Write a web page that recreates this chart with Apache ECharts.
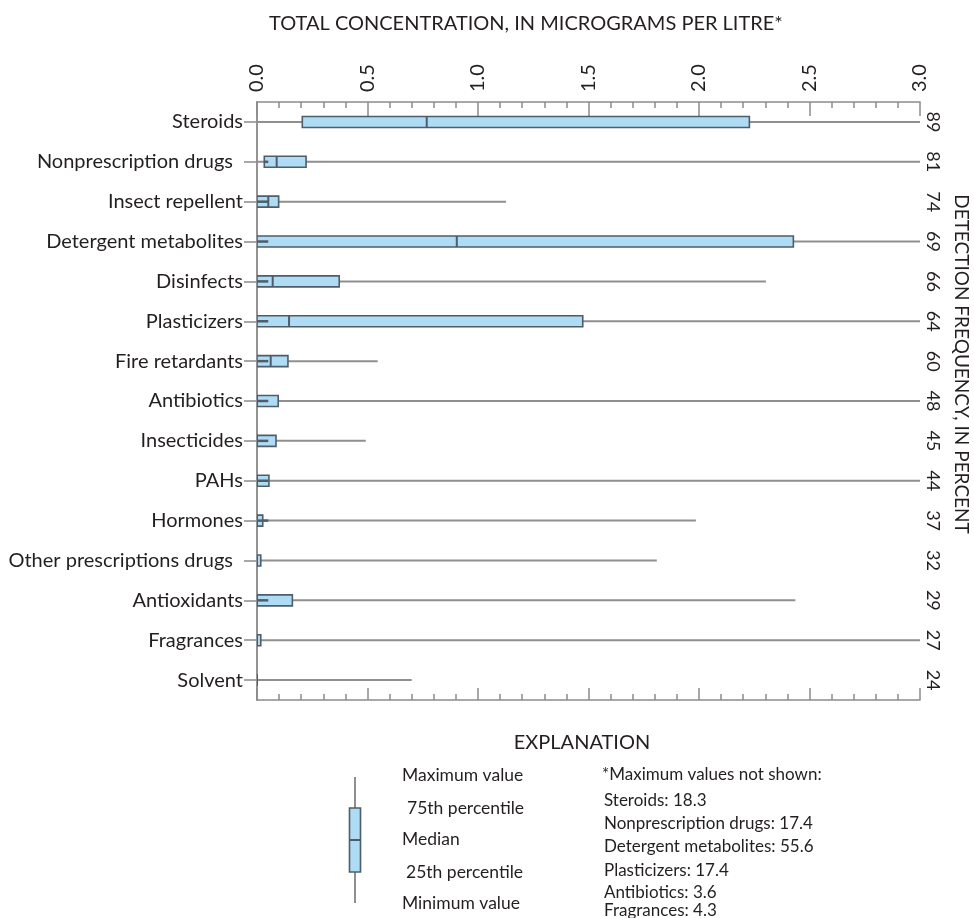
<!DOCTYPE html>
<html>
<head>
<meta charset="utf-8">
<script src="https://cdn.jsdelivr.net/npm/echarts@6/dist/echarts.min.js"></script>
<style>
  html, body { margin: 0; padding: 0; background: #ffffff; }
  #chart { width: 974px; height: 918px; }
</style>
</head>
<body>
<div id="chart"></div>
<script>
// Compound groups, top to bottom
const categories = [
  'Steroids', 'Nonprescription drugs', 'Insect repellent', 'Detergent metabolites',
  'Disinfects', 'Plasticizers', 'Fire retardants', 'Antibiotics', 'Insecticides',
  'PAHs', 'Hormones', 'Other prescriptions drugs', 'Antioxidants', 'Fragrances', 'Solvent'
];
// Detection frequency, in percent (right-hand axis)
const detectionFreq = ['89', '81', '74', '69', '66', '64', '60', '48', '45', '44', '37', '32', '29', '27', '24'];

// Box-plot statistics, micrograms per litre
const minValues    = [0, 0, 0, 0, 0, 0, 0, 0, 0, 0, 0, 0, 0, 0, 0];
const q1Values     = [0.205, 0.033, 0, 0, 0, 0, 0, 0, 0, 0, 0, 0, 0, 0, 0];
const medianValues = [0.768, 0.089, 0.051, 0.904, 0.071, 0.145, 0.062, 0, 0, 0, 0, 0, 0, 0, 0];
const q3Values     = [2.228, 0.222, 0.098, 2.427, 0.372, 1.474, 0.140, 0.096, 0.086, 0.054, 0.026, 0.017, 0.160, 0.017, 0];
const maxValues    = [18.3, 17.4, 1.127, 55.6, 2.303, 17.4, 0.546, 3.6, 0.492, 3.0, 1.986, 1.809, 2.436, 4.3, 0.70];
// End of the short dark stroke drawn from the lower edge of the box
const lowerDash    = [null, 0.051, 0.051, 0.051, 0.051, 0.051, 0.051, 0.051, 0.051, 0.051, 0.051, null, 0.051, null, null];

// Tick labels of the concentration axis
const concTicks = ['0.0', '0.5', '1.0', '1.5', '2.0', '2.5', '3.0'];

// Footnote listing maxima beyond the axis
const offScaleNotes = [
  'Steroids: 18.3',
  'Nonprescription drugs: 17.4',
  'Detergent metabolites: 55.6',
  'Plasticizers: 17.4',
  'Antibiotics: 3.6',
  'Fragrances: 4.3'
];

const FONT = 'Lato';
const TEXT = '#231f20';
const AXIS = '#8c8c8c';
const BOX_FILL = '#aedcf4';
const BOX_EDGE = '#4e5d69';
const WHISKER = '#8f8f8f';

// Labels that sit a little further from the axis
const paddedLabels = ['Nonprescription drugs', 'Other prescriptions drugs'];

const boxData = categories.map((c, i) => [
  i, minValues[i], q1Values[i], medianValues[i], q3Values[i], maxValues[i],
  lowerDash[i] == null ? NaN : lowerDash[i]
]);

function renderBox(params, api) {
  const idx = api.value(0);
  const lo = api.coord([api.value(1), idx]);
  const q1 = api.coord([api.value(2), idx]);
  const md = api.coord([api.value(3), idx]);
  const q3 = api.coord([api.value(4), idx]);
  const hi = api.coord([api.value(5), idx]);
  const dashV = api.value(6);
  const y = lo[1];
  const h = 11;
  const children = [
    { type: 'line', shape: { x1: lo[0], y1: y, x2: hi[0], y2: y },
      style: { stroke: WHISKER, lineWidth: 2 } },
    { type: 'rect', shape: { x: q1[0], y: y - h / 2, width: q3[0] - q1[0], height: h },
      style: { fill: BOX_FILL, stroke: BOX_EDGE, lineWidth: 1.6 } },
    { type: 'line', shape: { x1: md[0], y1: y - h / 2, x2: md[0], y2: y + h / 2 },
      style: { stroke: BOX_EDGE, lineWidth: 2 } }
  ];
  if (!isNaN(dashV)) {
    const d = api.coord([dashV, idx]);
    children.push({ type: 'line', shape: { x1: q1[0], y1: y, x2: d[0], y2: y },
      style: { stroke: BOX_EDGE, lineWidth: 2.5 } });
  }
  return { type: 'group', children: children };
}

const legendLeft = [
  { text: 'Maximum value', x: 402, y: 775 },
  { text: '75th percentile', x: 407, y: 808 },
  { text: 'Median', x: 402, y: 839 },
  { text: '25th percentile', x: 406, y: 872 },
  { text: 'Minimum value', x: 402, y: 903 }
];
const noteY = [801, 824, 847, 871, 893, 911];

const graphics = [];
graphics.push({
  type: 'text', x: 269, y: 24,
  style: { text: 'TOTAL CONCENTRATION, IN MICROGRAMS PER LITRE*', font: '20px ' + FONT, fill: TEXT,
           align: 'left', verticalAlign: 'middle' }
});
graphics.push({
  type: 'text', x: 961, y: 364, rotation: -Math.PI / 2,
  style: { text: 'DETECTION FREQUENCY, IN PERCENT', font: '19px ' + FONT, fill: TEXT,
           align: 'center', verticalAlign: 'middle' }
});
graphics.push({
  type: 'text', x: 582, y: 743,
  style: { text: 'EXPLANATION', font: '20px ' + FONT, fill: TEXT, align: 'center', verticalAlign: 'middle' }
});
// Key glyph
graphics.push({ type: 'line', shape: { x1: 355, y1: 777, x2: 355, y2: 903 }, style: { stroke: WHISKER, lineWidth: 2 } });
graphics.push({ type: 'rect', shape: { x: 349.5, y: 808, width: 11, height: 64 },
  style: { fill: BOX_FILL, stroke: BOX_EDGE, lineWidth: 1.6 } });
graphics.push({ type: 'line', shape: { x1: 349.5, y1: 840, x2: 360.5, y2: 840 }, style: { stroke: BOX_EDGE, lineWidth: 2 } });
legendLeft.forEach(t => graphics.push({
  type: 'text', x: t.x, y: t.y,
  style: { text: t.text, font: '17.5px ' + FONT, fill: TEXT, verticalAlign: 'middle' }
}));
graphics.push({
  type: 'text', x: 602, y: 775,
  style: { text: '*Maximum values not shown:', font: '17px ' + FONT, fill: TEXT, verticalAlign: 'middle' }
});
offScaleNotes.forEach((t, i) => graphics.push({
  type: 'text', x: 604, y: noteY[i],
  style: { text: t, font: '17px ' + FONT, fill: TEXT, verticalAlign: 'middle' }
}));

const chart = echarts.init(document.getElementById('chart'), null, { renderer: 'canvas' });
chart.setOption({
  animation: false,
  backgroundColor: '#ffffff',
  grid: { left: 257, right: 54, top: 102, bottom: 218 },
  xAxis: [
    {
      type: 'value', position: 'top', min: 0, max: 3, interval: 0.5,
      axisLine: { show: true, lineStyle: { color: AXIS, width: 1.5 } },
      axisTick: { show: true, inside: true, length: 14, lineStyle: { color: AXIS, width: 1.5 } },
      minorTick: { show: true, splitNumber: 5, length: 6, lineStyle: { color: AXIS, width: 1.5 } },
      splitLine: { show: false },
      axisLabel: {
        rotate: -90, margin: 10, fontFamily: FONT, fontSize: 20, color: TEXT,
        formatter: (v) => concTicks[Math.round(v * 2)]
      }
    },
    {
      type: 'value', position: 'bottom', min: 0, max: 3, interval: 0.5,
      axisLine: { show: true, lineStyle: { color: AXIS, width: 1.5 } },
      axisTick: { show: true, inside: true, length: 12, lineStyle: { color: AXIS, width: 1.5 } },
      minorTick: { show: true, splitNumber: 5, length: 6, lineStyle: { color: AXIS, width: 1.5 } },
      splitLine: { show: false },
      axisLabel: { show: false }
    }
  ],
  yAxis: [
    {
      type: 'category', data: categories, inverse: true, position: 'left',
      axisLine: { show: true, lineStyle: { color: AXIS, width: 1.5 } },
      axisTick: { show: false },
      axisLabel: {
        margin: 14, fontFamily: FONT, fontSize: 20, color: TEXT,
        // two labels end one en space short of the others
        formatter: (v) => paddedLabels.indexOf(v) >= 0 ? v + '\u2002' : v
      }
    },
    {
      type: 'category', data: detectionFreq, inverse: true, position: 'right',
      axisLine: { show: true, lineStyle: { color: AXIS, width: 1.5 } },
      axisTick: { show: true, inside: true, alignWithLabel: true, length: 13, lineStyle: { color: AXIS, width: 1.5 } },
      axisLabel: { rotate: -90, margin: 4, fontFamily: FONT, fontSize: 18, color: TEXT }
    }
  ],
  series: [{
    type: 'custom',
    xAxisIndex: 0, yAxisIndex: 0,
    clip: true,
    renderItem: renderBox,
    encode: { x: [1, 2, 3, 4, 5], y: 0 },
    data: boxData,
    z: 3
  }],
  graphic: graphics
});
</script>
</body>
</html>
